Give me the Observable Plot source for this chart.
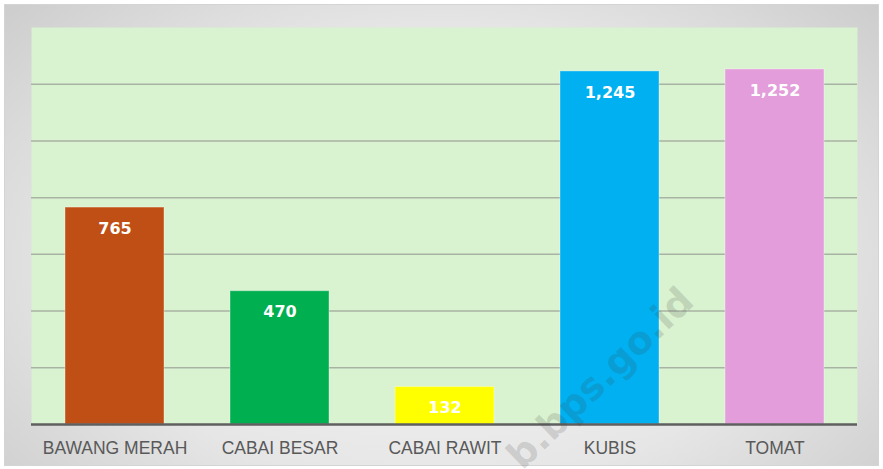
<!DOCTYPE html>
<html>
<head>
<meta charset="utf-8">
<script src="https://cdn.jsdelivr.net/npm/d3@7"></script>
<script src="https://cdn.jsdelivr.net/npm/@observablehq/plot@0.6"></script>
<style>
  html, body { margin: 0; padding: 0; background: #ffffff; }
  #wrap { position: relative; width: 883px; height: 469px; overflow: hidden; }
  #frame {
    position: absolute; left: 4px; top: 4px; width: 873px; height: 460px;
    border: 1px solid #d4d4d4;
    background: radial-gradient(ellipse 75% 90% at 50% 55%, #f7f7f7 0%, #e6e6e6 55%, #c6c6c6 100%);
  }
  #chart { position: absolute; left: 0; top: 0; }
  #wm {
    position: absolute; left: 600px; top: 378px;
    transform: translate(-50%, -50%) rotate(-44deg);
    font: bold 38px "DejaVu Sans", sans-serif;
    color: rgba(60,60,60,0.17);
    white-space: nowrap; pointer-events: none;
  }
</style>
</head>
<body>
<div id="wrap">
  <div id="frame"></div>
  <div id="chart"></div>
  <div id="wm">b.bps.go.id</div>
</div>
<script>
const categories = ["BAWANG MERAH", "CABAI BESAR", "CABAI RAWIT", "KUBIS", "TOMAT"];
const values = [765, 470, 132, 1245, 1252];
const colors = ["#c04f15", "#00b050", "#ffff00", "#00b0f0", "#e39ddb"];
const gridTicks = [200, 400, 600, 800, 1000, 1200];

const data = categories.map((c, i) => ({category: c, value: values[i], color: colors[i]}));
const fmt = d3.format(",");

const chart = Plot.plot({
  width: 883,
  height: 469,
  marginLeft: 31,
  marginRight: 26,
  marginTop: 27,
  marginBottom: 45,
  style: {background: "transparent", fontFamily: "'Liberation Sans', Arial, sans-serif"},
  x: {domain: categories, paddingInner: 0.4, paddingOuter: 0.2, align: 0.5, label: null},
  y: {domain: [0, 1400], axis: null},
  marks: [
    Plot.frame({fill: "#d9f2d0", stroke: null}),
    Plot.ruleY(gridTicks, {stroke: "#a9b3a3", strokeWidth: 1.5}),
    Plot.barY(data, {x: "category", y: "value", fill: "color", stroke: "#ffffff", strokeOpacity: 0.35, strokeWidth: 1}),
    Plot.ruleY([0], {stroke: "#5f5f5f", strokeWidth: 2.5}),
    Plot.text(data, {
      x: "category", y: "value", text: d => fmt(d.value), dy: 21,
      fill: "#ffffff", fontWeight: "bold", fontSize: 16,
      fontFamily: "'DejaVu Sans', Verdana, sans-serif"
    }),
    Plot.axisX({tickSize: 0, tickPadding: 17, fontSize: 17.5, fill: "#595959", label: null})
  ]
});
document.getElementById("chart").appendChild(chart);
</script>
</body>
</html>
